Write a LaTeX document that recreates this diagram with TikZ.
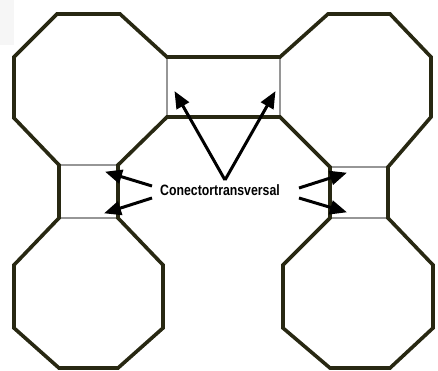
\documentclass[tikz,border=0pt]{standalone}
\usepackage{fontspec}
\setmainfont{Liberation Sans}
\usetikzlibrary{arrows.meta}
\definecolor{outline}{RGB}{40,40,18}
\definecolor{joint}{RGB}{150,150,150}
\definecolor{faint}{RGB}{246,246,246}
\tikzset{
  wall/.style={draw=outline, line width=3.6pt, line join=miter},
  jointline/.style={draw=joint, line width=1.8pt},
  pointer/.style={draw=black, line width=3pt, -{Triangle[length=17pt,width=14pt]}, shorten >=-1pt},
  labeltext/.style={font=\fontsize{15}{15}\selectfont, inner sep=0pt}
}
\begin{document}
\begin{tikzpicture}[x=1pt,y=-1pt]
\useasboundingbox (0,0) rectangle (438,370);
\fill[faint] (0,0) rectangle (14,45);
% joints (gray short sides)
\draw[jointline] (167,57) -- (167,117);
\draw[jointline] (280,57) -- (280,117);
\draw[jointline] (59,165) -- (118,165);
\draw[jointline] (59,218) -- (118,218);
\draw[jointline] (330,167) -- (388,167);
\draw[jointline] (330,218) -- (388,218);
% outline of the four octagons and connectors
\draw[wall] (57,14) -- (120,14) -- (167,57) -- (280,57) -- (328,14) -- (390,14)
  -- (431,57) -- (431,117) -- (388,167) -- (388,218) -- (433,265) -- (433,328)
  -- (390,368) -- (330,368) -- (283,328) -- (283,265) -- (330,218) -- (330,167)
  -- (280,117) -- (167,117) -- (118,165) -- (118,218) -- (163,265) -- (163,328)
  -- (118,368) -- (59,368) -- (14,328) -- (14,265) -- (59,218) -- (59,165)
  -- (14,118) -- (14,57) -- cycle;
% label and pointers
\node[labeltext] (lbl) at (220,190) {\scalebox{0.82}[1]{\bfseries Conectortransversal}};
\coordinate (apex) at (225,180);
\coordinate (tTL) at (175,92);
\coordinate (tTR) at (275,92);
\coordinate (sL1) at (152,186);
\coordinate (sL2) at (152,198);
\coordinate (tL1) at (106,172);
\coordinate (tL2) at (105,213);
\coordinate (sR1) at (299,188);
\coordinate (sR2) at (299,198);
\coordinate (tR1) at (346,173);
\coordinate (tR2) at (346,212);
\draw[pointer] (apex) -- (tTL);
\draw[pointer] (apex) -- (tTR);
\draw[pointer] (sL1) -- (tL1);
\draw[pointer] (sL2) -- (tL2);
\draw[pointer] (sR1) -- (tR1);
\draw[pointer] (sR2) -- (tR2);
\end{tikzpicture}
\end{document}
